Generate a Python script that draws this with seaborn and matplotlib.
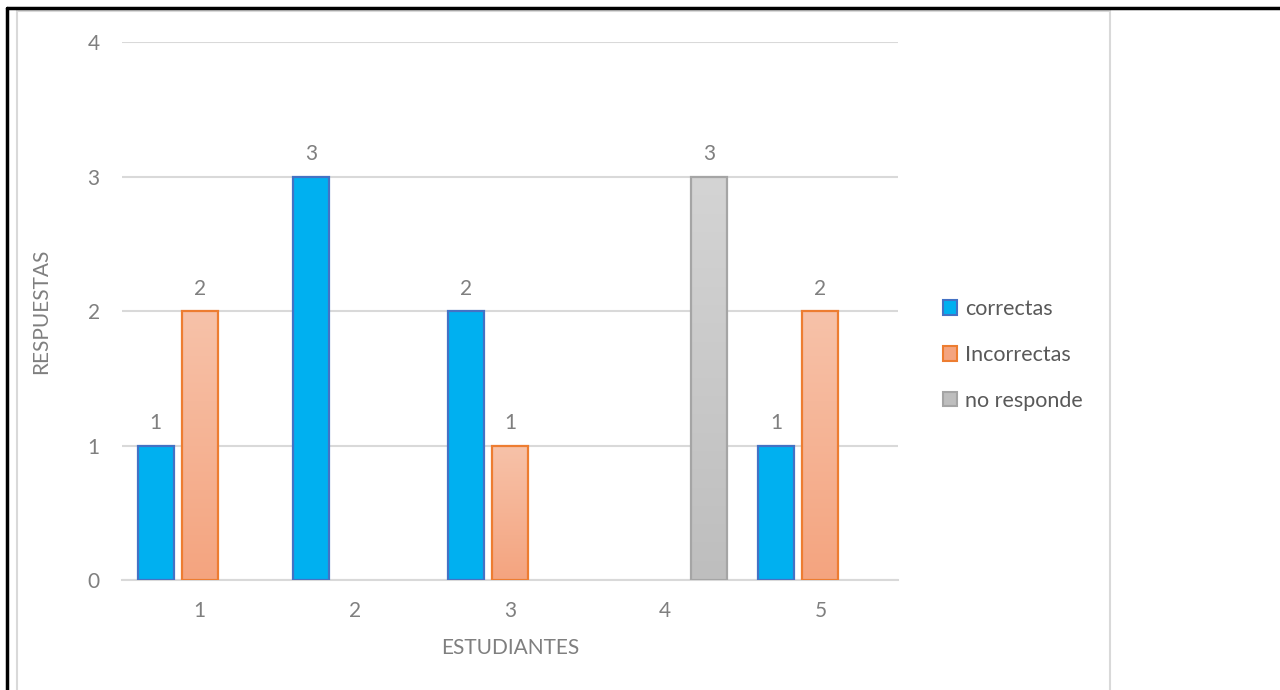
import numpy as np
import pandas as pd
import matplotlib
matplotlib.use("Agg")
import matplotlib.pyplot as plt
from matplotlib.patches import Patch, Rectangle
from matplotlib.lines import Line2D
from matplotlib.colors import LinearSegmentedColormap
import seaborn as sns

# Data
estudiantes = ["1", "2", "3", "4", "5"]
correctas = [1, 3, 2, 0, 1]
incorrectas = [2, 0, 1, 0, 2]
no_responde = [0, 0, 0, 3, 0]
series_names = ["correctas", "Incorrectas", "no responde"]

rows = []
for name, vals in zip(series_names, [correctas, incorrectas, no_responde]):
    for est, v in zip(estudiantes, vals):
        if v > 0:
            rows.append({"ESTUDIANTES": est, "RESPUESTAS": v, "serie": name})
df = pd.DataFrame(rows)

sns.set_theme(style="white")
plt.rcParams["font.family"] = ["Lato", "DejaVu Sans"]

fill_top = {"correctas": "#00B0F0", "Incorrectas": "#F7C2A9", "no responde": "#D4D4D4"}
fill_bot = {"correctas": "#00B0F0", "Incorrectas": "#F4A47F", "no responde": "#BEBEBE"}
edges = {"correctas": "#4472C4", "Incorrectas": "#ED7D31", "no responde": "#A5A5A5"}

fig = plt.figure(figsize=(12.8, 6.9), dpi=100)
ax = fig.add_axes([122 / 1280, 110 / 690, 776 / 1280, 538 / 690])

sns.barplot(data=df, x="ESTUDIANTES", y="RESPUESTAS", hue="serie",
            order=estudiantes, hue_order=series_names,
            palette=fill_top, saturation=1, width=0.85, gap=0.18, ax=ax,
            legend=False, err_kws={"linewidth": 0})

for container, name in zip(ax.containers, series_names):
    for bar in container:
        bar.set_edgecolor(edges[name])
        bar.set_linewidth(1.6)
        bar.set_zorder(3)
        if fill_top[name] != fill_bot[name]:
            cmap = LinearSegmentedColormap.from_list(name, [fill_bot[name], fill_top[name]])
            x0, w, h = bar.get_x(), bar.get_width(), bar.get_height()
            grad = np.linspace(0, 1, 256).reshape(-1, 1)
            im = ax.imshow(grad, cmap=cmap, origin="lower", aspect="auto",
                           extent=[x0, x0 + w, 0, h], zorder=2.5)
            im.set_clip_path(bar)
            bar.set_facecolor("none")
    ax.bar_label(container, labels=[f"{int(b.get_height())}" for b in container],
                 padding=9, fontsize=15, color="#7F7F7F")

ax.set_xlim(-0.5, 4.5)
ax.set_ylim(0, 4)
ax.set_yticks([0, 1, 2, 3, 4])
ax.yaxis.grid(True, color="#D9D9D9", linewidth=1.5, zorder=0)
ax.set_axisbelow(True)
for side in ["top", "right", "left"]:
    ax.spines[side].set_visible(False)
ax.spines["bottom"].set_color("#D9D9D9")
ax.spines["bottom"].set_linewidth(1.5)
ax.tick_params(axis="both", length=0, labelsize=15, colors="#7F7F7F")
ax.tick_params(axis="y", pad=16)
ax.tick_params(axis="x", pad=15)
ax.set_xlabel("ESTUDIANTES", fontsize=15, color="#7F7F7F", labelpad=12)
ax.set_ylabel("RESPUESTAS", fontsize=15, color="#7F7F7F", labelpad=26)

handles = [Patch(facecolor=fill_bot[n] if n != "correctas" else fill_top[n],
                 edgecolor=edges[n], linewidth=1.5, label=n) for n in series_names]
leg = fig.legend(handles=handles, loc="center left", bbox_to_anchor=(924 / 1280, 335 / 690),
                 frameon=False, fontsize=15.5, handlelength=0.65, handleheight=0.65,
                 handletextpad=0.35, labelspacing=1.2, labelcolor="#595959")

# Chart area frame and outer border
fig.add_artist(Rectangle((17 / 1280, -0.05), (1110 - 17) / 1280, (690 - 11) / 690 + 0.05,
                         transform=fig.transFigure, fill=False,
                         edgecolor="#D9D9D9", linewidth=1.5))
fig.add_artist(Line2D([7 / 1280, 7 / 1280], [0, 682 / 690], transform=fig.transFigure,
                      color="black", linewidth=2.5))
fig.add_artist(Line2D([7 / 1280, 1], [682 / 690, 682 / 690], transform=fig.transFigure,
                      color="black", linewidth=2.5))

fig.savefig("out.png", dpi=100, facecolor="white")
